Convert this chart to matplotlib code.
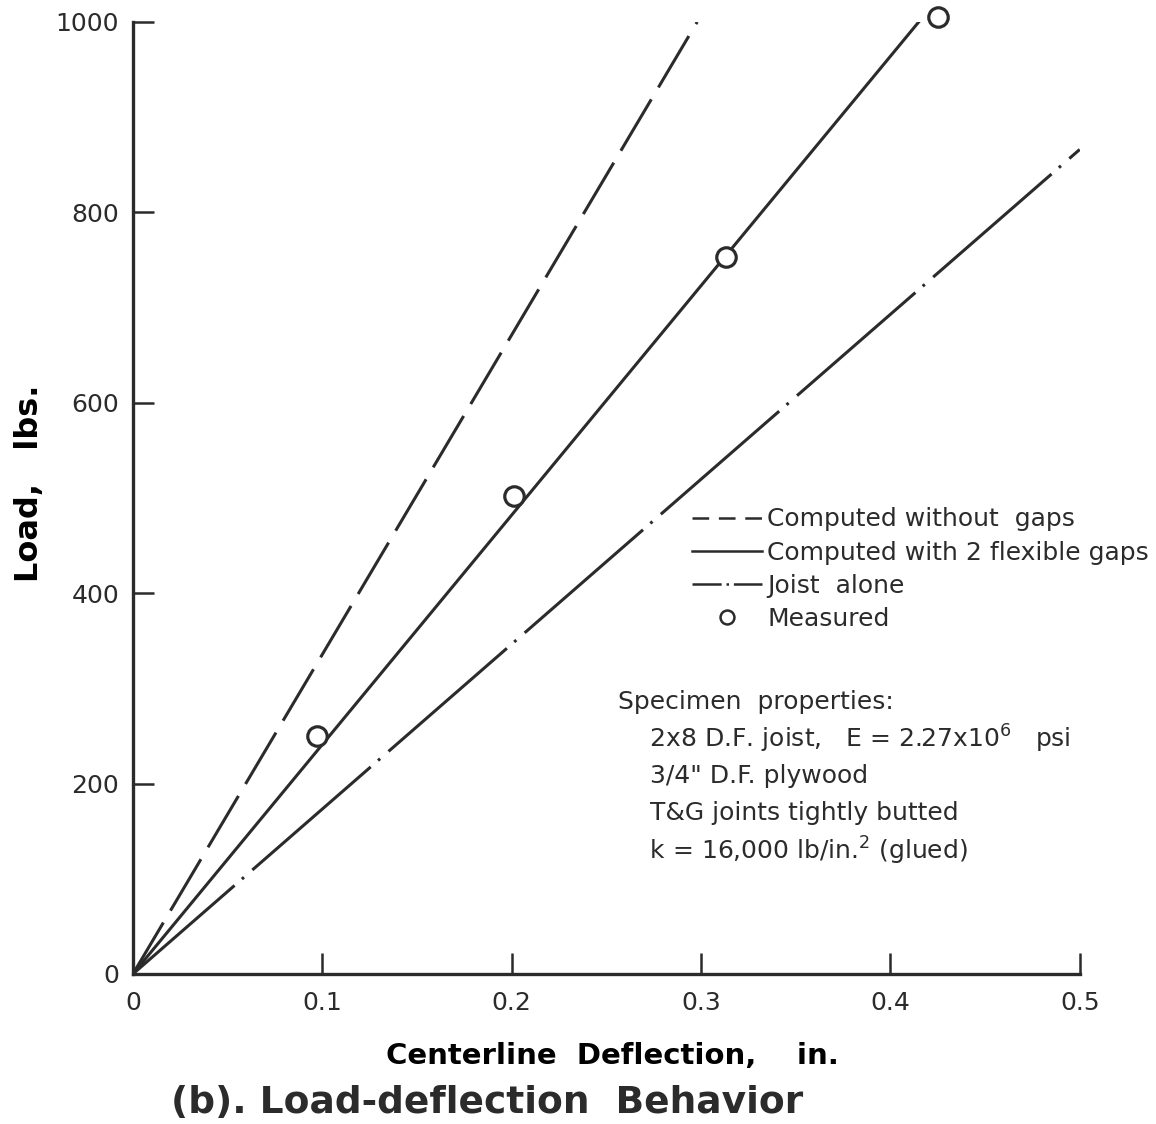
import matplotlib
matplotlib.use("Agg")
import matplotlib.pyplot as plt
from matplotlib.lines import Line2D

# data (deflection in in., load in lbs)
defl_no_gaps = [0.0, 0.298]
load_no_gaps = [0, 1000]
defl_flex_gaps = [0.0, 0.415]
load_flex_gaps = [0, 1000]
defl_joist = [0.0, 0.5]
load_joist = [0, 866]
defl_measured = [0.097, 0.201, 0.313, 0.425]
load_measured = [250, 502, 753, 1005]

xticks = [0, 0.1, 0.2, 0.3, 0.4, 0.5]
xticklabels = ["0", "0.1", "0.2", "0.3", "0.4", "0.5"]
yticks = [0, 200, 400, 600, 800, 1000]

specimen_lines = [
    "Specimen  properties:",
    "    2x8 D.F. joist,   E = 2.27x10$^{6}$   psi",
    "    3/4\" D.F. plywood",
    "    T&G joints tightly butted",
    "    k = 16,000 lb/in.$^{2}$ (glued)",
]

ink = "#2b2b2b"
plt.rcParams["lines.scale_dashes"] = False
plt.rcParams["font.family"] = "DejaVu Sans"
plt.rcParams["text.color"] = ink
plt.rcParams["mathtext.default"] = "regular"

fig = plt.figure(figsize=(11.56, 11.24), dpi=100)
ax = fig.add_axes([0.115, 0.1335, 0.819, 0.847])

lw = 2.2
ax.plot(defl_no_gaps, load_no_gaps, color=ink, lw=lw, dashes=(43, 10))
ax.plot(defl_flex_gaps, load_flex_gaps, color=ink, lw=lw)
# long dash - dot, drafted by hand in the original
ax.plot(defl_joist, load_joist, color=ink, lw=lw,
        ls=(16, (113, 7, 2, 8)))
ax.plot(defl_measured, load_measured, ls="none", marker="o", ms=14,
        mfc="white", mec=ink, mew=2.3, clip_on=False, zorder=5)

ax.set_xlim(0, 0.5)
ax.set_ylim(0, 1000)
for side in ("top", "right"):
    ax.spines[side].set_visible(False)
for side in ("left", "bottom"):
    ax.spines[side].set_linewidth(2.4)
    ax.spines[side].set_color(ink)

ax.set_xticks(xticks)
ax.set_xticklabels(xticklabels)
ax.set_yticks(yticks)
ax.tick_params(direction="in", length=15, width=1.8, color=ink,
               labelsize=18, labelcolor=ink, pad=10)
ax.tick_params(axis="x", pad=12)

ax.set_xlabel("Centerline  Deflection,    in.", fontsize=21, fontweight="bold")
ax.xaxis.set_label_coords(0.506, -0.071)
ax.set_ylabel("Load,   lbs.", fontsize=23, fontweight="bold")
ax.yaxis.set_label_coords(-0.093, 0.515)
fig.text(0.421, 0.0187, "(b). Load-deflection  Behavior", fontsize=27,
         fontweight="bold", ha="center", va="center")

handles = [
    Line2D([], [], color=ink, lw=1.8, dashes=(12, 7)),
    Line2D([], [], color=ink, lw=1.8),
    Line2D([], [], color=ink, lw=1.8, dashes=(21, 3.5, 1.8, 3.5)),
    Line2D([], [], ls="none", marker="o", ms=10, mfc="white", mec=ink, mew=1.8),
]
labels = ["Computed without  gaps", "Computed with 2 flexible gaps",
          "Joist  alone", "Measured"]
ax.legend(handles, labels, loc="upper left", bbox_to_anchor=(0.591, 0.49),
          frameon=False, fontsize=18, handlelength=2.8, handletextpad=0.2,
          labelspacing=0.37, borderpad=0, borderaxespad=0)

for i, line in enumerate(specimen_lines):
    ax.text(0.512, 0.2857 - i * 0.039, line, transform=ax.transAxes,
            fontsize=18, va="center", ha="left")

fig.savefig("out.png", dpi=100, facecolor="white")
